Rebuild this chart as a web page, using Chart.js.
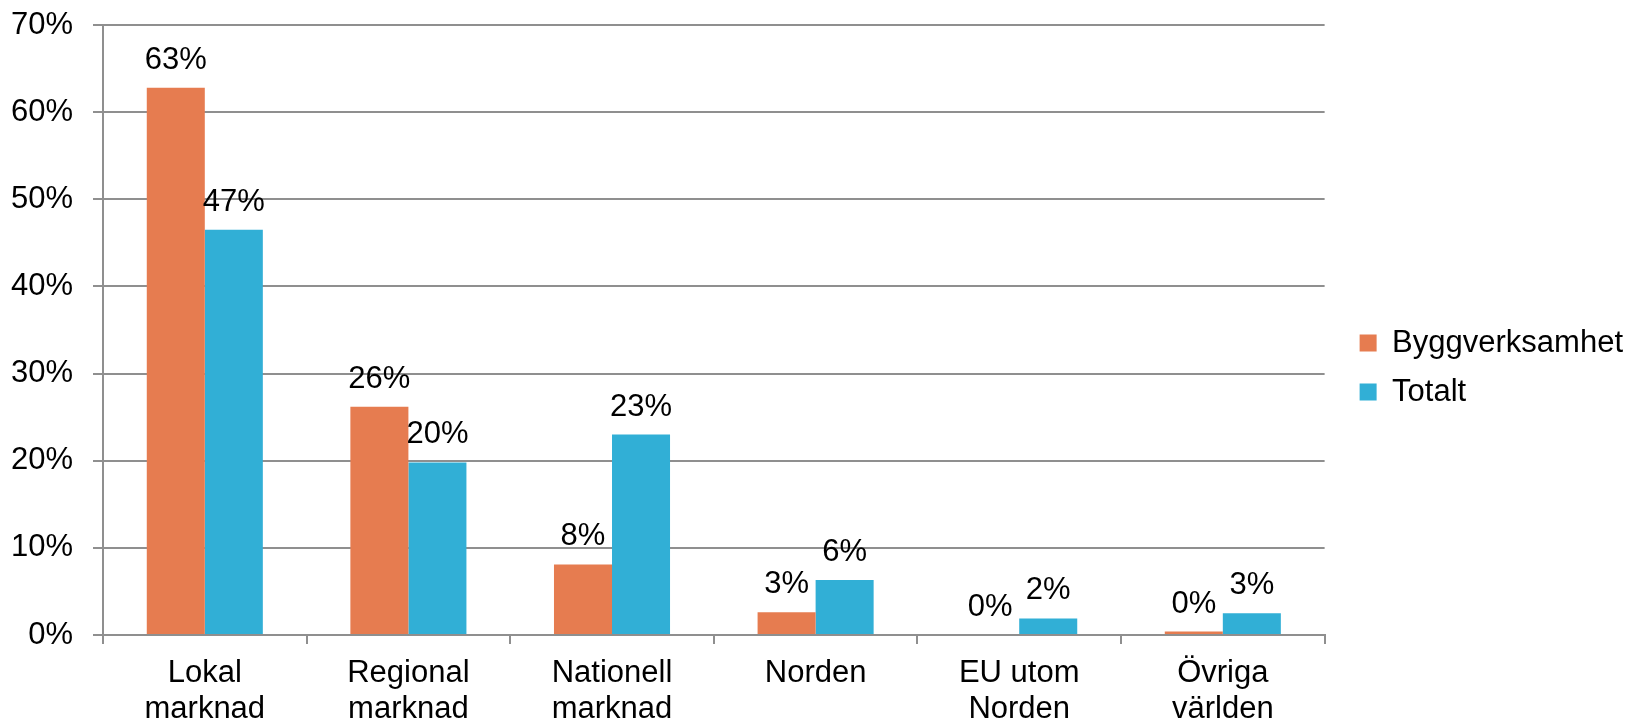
<!DOCTYPE html>
<html>
<head>
<meta charset="utf-8">
<script src="https://cdn.jsdelivr.net/npm/chart.js@4"></script>
<style>
  html, body { margin: 0; padding: 0; background: #fff; }
  #wrap { width: 1633px; height: 723px; }
</style>
</head>
<body>
<div id="wrap"><canvas id="chart"></canvas></div>
<script>
const categories = [
    ['Lokal', 'marknad'],
    ['Regional', 'marknad'],
    ['Nationell', 'marknad'],
    ['Norden'],
    ['EU utom', 'Norden'],
    ['Övriga', 'världen']
];
const byggverksamhet = [62.8, 26.2, 8.1, 2.6, 0.0, 0.4];
const totalt = [46.5, 19.8, 23.0, 6.3, 1.9, 2.5];
const yTicks = [0, 10, 20, 30, 40, 50, 60, 70];

const fontFamily = "'Liberation Sans', Arial, sans-serif";
const gridColor = '#8f8f8f';

// draws the value above every bar
const valueLabels = {
    id: 'valueLabels',
    afterLayout(chart) {
        // legend sits a little higher than chart.js centres it
        chart.legend.bottom -= 13;
    },
    afterDatasetsDraw(chart) {
        const ctx = chart.ctx;
        ctx.save();
        ctx.font = '31px ' + fontFamily;
        ctx.fillStyle = '#000';
        ctx.textAlign = 'center';
        ctx.textBaseline = 'alphabetic';
        chart.data.datasets.forEach((ds, i) => {
            chart.getDatasetMeta(i).data.forEach((bar, j) => {
                ctx.fillText(Math.round(ds.data[j]) + '%', bar.x, bar.y - 19);
            });
        });
        ctx.restore();
    }
};

new Chart(document.getElementById('chart'), {
    type: 'bar',
    data: {
        labels: categories,
        datasets: [
            { label: 'Byggverksamhet', data: byggverksamhet, backgroundColor: '#E67C50' },
            { label: 'Totalt', data: totalt, backgroundColor: '#31AFD6' }
        ]
    },
    options: {
        responsive: true,
        maintainAspectRatio: false,
        animation: false,
        layout: { padding: { top: 25, bottom: 0, left: 0, right: 0 } },
        datasets: { bar: { categoryPercentage: 0.57, barPercentage: 1.0 } },
        plugins: {
            legend: {
                position: 'right',
                maxWidth: 293,
                labels: {
                    boxWidth: 17,
                    boxHeight: 17,
                    padding: 18,
                    color: '#000',
                    font: { family: fontFamily, size: 31 }
                }
            },
            tooltip: { enabled: false }
        },
        scales: {
            x: {
                grid: {
                    offset: true,
                    drawOnChartArea: false,
                    drawTicks: true,
                    tickLength: 9,
                    color: gridColor,
                    lineWidth: 2
                },
                border: { color: gridColor, width: 2 },
                ticks: {
                    color: '#000',
                    padding: 12,
                    maxRotation: 0,
                    font: { family: fontFamily, size: 31, lineHeight: 1.15 }
                },
                afterFit(s) { s.height = 88; }
            },
            y: {
                min: 0,
                max: 70,
                afterBuildTicks(s) { s.ticks = yTicks.map(v => ({ value: v })); },
                grid: { color: gridColor, lineWidth: 2, tickLength: 10 },
                border: { color: gridColor, width: 2 },
                ticks: {
                    color: '#000',
                    padding: 20,
                    font: { family: fontFamily, size: 31 },
                    callback: v => v + '%'
                },
                afterFit(s) {
                    s.width = 103;
                    s.paddingTop = 0;
                    s.paddingBottom = 0;
                }
            },
            y2: {
                position: 'right',
                display: true,
                grid: { display: false },
                border: { display: false },
                ticks: { display: false },
                afterFit(s) { s.width = 17; }
            }
        }
    },
    plugins: [valueLabels]
});
</script>
</body>
</html>
